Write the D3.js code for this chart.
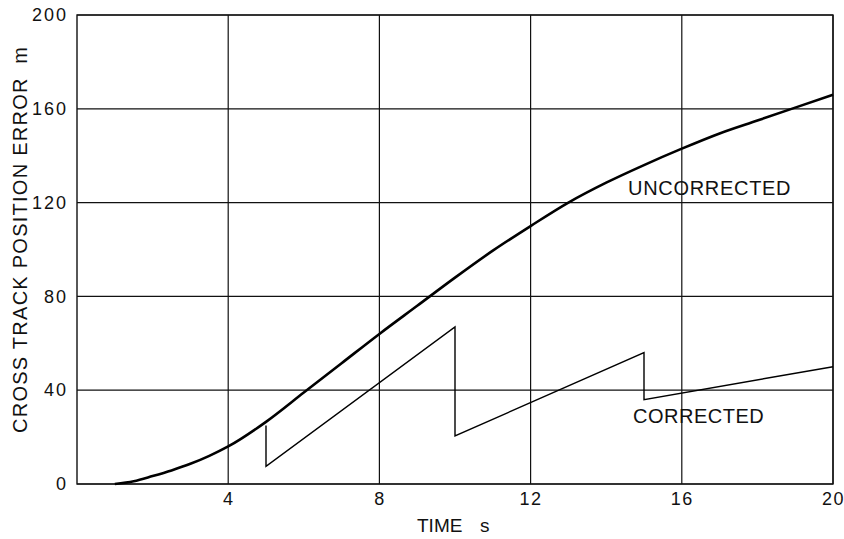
<!DOCTYPE html>
<html>
<head>
<meta charset="utf-8">
<script src="https://cdn.jsdelivr.net/npm/d3@7"></script>
<style>
  body { margin: 0; background: #fff; }
  text { font-family: "Liberation Sans", Arial, sans-serif; fill: #111; }
</style>
</head>
<body>
<div id="chart-area"></div>
<script>
// values
const xTicks = [4, 8, 12, 16, 20];
const yTicks = [0, 40, 80, 120, 160, 200];

const uncorrectedT = [1, 1.5, 2, 2.5, 3, 3.5, 4, 5, 6, 7, 8, 9, 10, 11, 12, 13, 14, 15, 16, 17, 18, 19, 20];
const uncorrectedE = [0, 1.2, 3.4, 5.8, 8.6, 12, 16, 26.5, 39, 51.5, 64, 76, 88, 99.5, 110, 120, 128.5, 136, 143, 149.5, 155, 160.5, 166];

const correctedT = [5, 5, 10, 10, 15, 15, 20];
const correctedE = [25, 7.5, 67, 20.5, 56, 36, 50];

const width = 844, height = 539;
const svg = d3
  .select("#chart-area")
  .append("svg")
  .attr("width", width)
  .attr("height", height);

const x = d3.scaleLinear().domain([0, 20]).range([77, 833]);
const y = d3.scaleLinear().domain([0, 200]).range([484, 15]);

// grid
svg.append("g")
  .selectAll("line")
  .data(xTicks)
  .enter()
  .append("line")
  .attr("x1", (d) => x(d))
  .attr("x2", (d) => x(d))
  .attr("y1", y(0))
  .attr("y2", y(200))
  .attr("stroke", "#111")
  .attr("stroke-width", 1.2);

svg.append("g")
  .selectAll("line")
  .data(yTicks)
  .enter()
  .append("line")
  .attr("x1", x(0))
  .attr("x2", x(20))
  .attr("y1", (d) => y(d))
  .attr("y2", (d) => y(d))
  .attr("stroke", "#111")
  .attr("stroke-width", 1.2);

svg.append("rect")
  .attr("x", x(0))
  .attr("y", y(200))
  .attr("width", x(20) - x(0))
  .attr("height", y(0) - y(200))
  .attr("fill", "none")
  .attr("stroke", "#111")
  .attr("stroke-width", 1.4);

// axes (labels only, lines drawn above)
const xAxis = d3.axisBottom(x).tickValues(xTicks).tickSize(0).tickPadding(8);
svg.append("g")
  .attr("transform", `translate(0,${y(0)})`)
  .call(xAxis)
  .call((g) => g.select(".domain").remove())
  .selectAll("text")
  .attr("font-size", 18)
  .attr("letter-spacing", 1.5)
  .style("font-family", "Liberation Sans, Arial, sans-serif")
  .attr("fill", "#111");

const yAxis = d3.axisLeft(y).tickValues(yTicks).tickSize(0).tickPadding(9);
svg.append("g")
  .attr("transform", `translate(${x(0)},0)`)
  .call(yAxis)
  .call((g) => g.select(".domain").remove())
  .selectAll("text")
  .attr("font-size", 18)
  .attr("letter-spacing", 2)
  .style("font-family", "Liberation Sans, Arial, sans-serif")
  .attr("fill", "#111");

// lines
const uncorrected = uncorrectedT.map((t, i) => [t, uncorrectedE[i]]);
const corrected = correctedT.map((t, i) => [t, correctedE[i]]);

svg.append("path")
  .datum(uncorrected)
  .attr("d", d3.line().x((d) => x(d[0])).y((d) => y(d[1])).curve(d3.curveMonotoneX))
  .attr("fill", "none")
  .attr("stroke", "#000")
  .attr("stroke-width", 2.6);

svg.append("path")
  .datum(corrected)
  .attr("d", d3.line().x((d) => x(d[0])).y((d) => y(d[1])))
  .attr("fill", "none")
  .attr("stroke", "#000")
  .attr("stroke-width", 1.4);

// labels
svg.append("text")
  .attr("x", 628)
  .attr("y", 195)
  .attr("font-size", 20)
  .attr("letter-spacing", 0.7)
  .text("UNCORRECTED");

svg.append("text")
  .attr("x", 633)
  .attr("y", 423)
  .attr("font-size", 20)
  .attr("letter-spacing", 0.5)
  .text("CORRECTED");

svg.append("text")
  .attr("x", 417)
  .attr("y", 532)
  .attr("font-size", 19)
  .text("TIME")
  .append("tspan")
  .attr("x", 480)
  .text("s");

svg.append("text")
  .attr("transform", "translate(27,240) rotate(-90)")
  .attr("text-anchor", "middle")
  .attr("font-size", 20)
  .attr("textLength", 386)
  .attr("lengthAdjust", "spacing")
  .style("white-space", "pre")
  .text("CROSS TRACK POSITION ERROR  m");
</script>
</body>
</html>
